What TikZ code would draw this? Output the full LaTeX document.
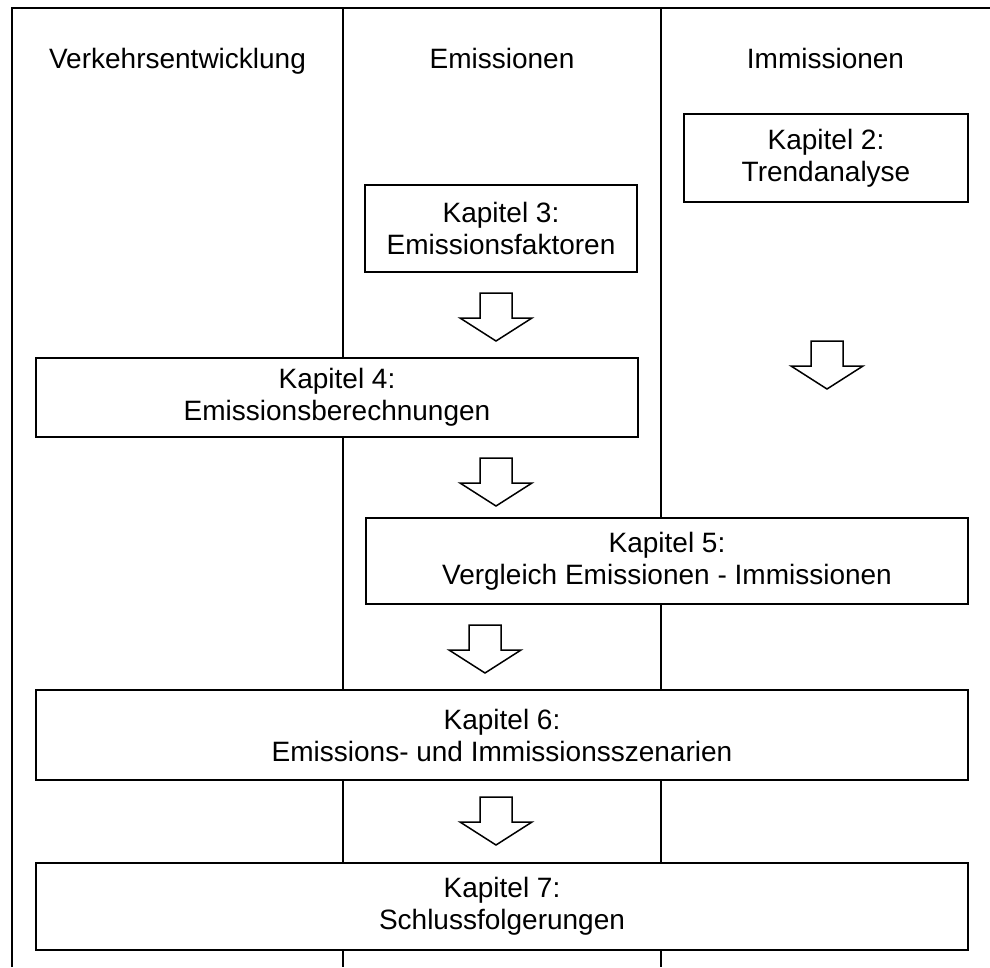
\documentclass[tikz,border=0pt]{standalone}
\usepackage{fontspec}
\setmainfont{Liberation Sans}
\begin{document}
\begin{tikzpicture}[x=1pt,y=-1pt,line width=1.8pt,
  box/.style={draw=black,fill=white,align=center,inner sep=0pt,font=\fontsize{28}{32}\selectfont},
  head/.style={font=\fontsize{28}{32}\selectfont,anchor=base,inner sep=0pt},
  blockarrow/.style={draw=black,fill=white,line width=1.5pt,line join=miter},
  pics/blockdown/.style={code={\draw[blockarrow] (-16,0) -- (16,0) -- (16,25) -- (36,25) -- (0,48) -- (-36,25) -- (-16,25) -- cycle;}}]
\useasboundingbox (0,0) rectangle (990,967);
% frame and columns
\coordinate (fbl) at (12,967);
\coordinate (ftl) at (12,8);
\coordinate (ftr) at (990,8);
\coordinate (d1t) at (343,8);
\coordinate (d1b) at (343,967);
\coordinate (d2t) at (661,8);
\coordinate (d2b) at (661,967);
\draw (fbl) -- (ftl) -- (ftr);
\draw (d1t) -- (d1b);
\draw (d2t) -- (d2b);
% headers
\node[head] (h1) at (177.5,68) {Verkehrsentwicklung};
\node[head] (h2) at (502,68) {Emissionen};
\node[head] (h3) at (825.5,68) {Immissionen};
% boxes
\node[box,minimum width=284pt,minimum height=88pt] (k2) at (826,158) {Kapitel 2:\\Trendanalyse};
\node[box,minimum width=272pt,minimum height=87pt] (k3) at (501,228.5) {Kapitel 3:\\Emissionsfaktoren};
\node[box,minimum width=602pt,minimum height=79pt] (k4) at (337,397.5) {Kapitel 4:\\Emissionsberechnungen};
\node[box,minimum width=602pt,minimum height=86pt] (k5) at (667,561) {Kapitel 5:\\Vergleich Emissionen - Immissionen};
\node[box,minimum width=932pt,minimum height=90pt] (k6) at (502,735) {Kapitel 6:\\Emissions- und Immissionsszenarien};
\node[box,minimum width=932pt,minimum height=87pt] (k7) at (502,906.5) {Kapitel 7:\\Schlussfolgerungen};
% block arrows
\pic (a1) at (496,293) {blockdown};
\pic (a2) at (827,341) {blockdown};
\pic (a3) at (496,458) {blockdown};
\pic (a4) at (485,625) {blockdown};
\pic (a5) at (496,797) {blockdown};
\end{tikzpicture}
\end{document}
